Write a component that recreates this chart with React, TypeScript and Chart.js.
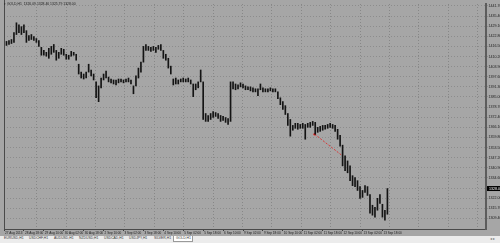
import React, { useEffect, useRef } from "react";
import { Chart, registerables } from "chart.js";
Chart.register(...registerables);

const symbol = "GOLD,H1";
const headerValues = ["1326.09", "1328.46", "1325.79", "1328.00"];

// each slot = 2 hourly bars
const highs = [
  1420.2, 1419.6, 1420.2, 1420.8, 1425.1, 1431.2, 1430.0, 1428.8, 1430.0, 1426.3,
  1423.3, 1423.9, 1422.6, 1421.4, 1420.2, 1415.9, 1414.0, 1412.8, 1415.3, 1416.5,
  1417.7, 1414.0, 1412.8, 1415.3, 1414.7, 1411.6, 1411.0, 1413.4, 1412.8, 1411.6,
  1405.4, 1400.5, 1399.3, 1400.5, 1405.4, 1401.8, 1399.3, 1394.4, 1391.9, 1396.8,
  1399.3, 1401.1, 1397.4, 1396.2, 1395.6, 1395.6, 1396.2, 1396.2, 1395.6, 1396.2,
  1396.8, 1395.6, 1391.9, 1398.1, 1403.0, 1406.7, 1416.5, 1417.7, 1416.5, 1415.9,
  1416.5, 1415.9, 1417.1, 1417.7, 1414.0, 1411.6, 1409.1, 1404.2,
  1396.2, 1396.8, 1395.6, 1396.2, 1396.8, 1396.2, 1396.8, 1395.6, 1393.1, 1393.1,
  1394.4, 1401.8, 1394.4, 1374.7, 1373.5, 1374.7, 1375.9, 1375.3, 1374.7, 1373.5,
  1372.9, 1372.2, 1371.6, 1394.4, 1394.4, 1393.1, 1392.5, 1393.8, 1393.1, 1391.9,
  1391.3, 1391.3, 1390.7, 1390.1, 1390.1, 1393.1, 1390.7, 1390.1, 1390.1, 1390.7,
  1390.1, 1390.1, 1388.2, 1384.5, 1382.1, 1379.6, 1374.7, 1371.0, 1367.3, 1368.6,
  1368.6, 1367.9, 1368.6, 1367.9, 1368.6, 1369.2, 1369.8, 1369.2, 1366.1, 1366.7,
  1367.3, 1367.3, 1367.9, 1368.6, 1367.9, 1367.3, 1364.9, 1361.2, 1355.0, 1348.3,
  1345.2, 1342.1, 1336.0, 1334.8, 1332.9, 1329.2, 1326.8, 1329.8, 1329.2, 1324.3,
  1317.6, 1316.3, 1321.9, 1324.3, 1318.2, 1314.5, 1328.0,
];
const lows = [
  1417.7, 1417.1, 1417.7, 1418.3, 1419.0, 1423.9, 1425.1, 1423.9, 1425.1, 1419.0,
  1420.2, 1420.8, 1420.2, 1419.0, 1416.5, 1411.0, 1411.0, 1410.4, 1409.1, 1411.6,
  1412.8, 1407.9, 1409.1, 1411.6, 1411.0, 1408.5, 1408.5, 1410.4, 1411.0, 1407.9,
  1399.3, 1396.8, 1396.2, 1396.8, 1400.5, 1398.1, 1395.6, 1384.5, 1382.1, 1390.7,
  1395.6, 1396.8, 1394.4, 1393.8, 1393.1, 1392.5, 1393.8, 1394.4, 1393.8, 1394.4,
  1394.4, 1393.1, 1387.0, 1391.9, 1396.8, 1400.5, 1406.7, 1414.0, 1414.0, 1413.4,
  1414.0, 1412.8, 1414.7, 1414.0, 1409.1, 1407.9, 1403.0, 1399.3,
  1392.5, 1393.1, 1393.1, 1394.4, 1394.4, 1394.4, 1394.4, 1393.1, 1385.2, 1389.5,
  1390.7, 1394.4, 1371.0, 1369.8, 1369.8, 1371.0, 1372.2, 1372.9, 1371.6, 1369.8,
  1370.4, 1369.2, 1367.9, 1369.8, 1390.1, 1389.5, 1390.1, 1391.3, 1390.7, 1389.5,
  1389.5, 1388.8, 1388.2, 1388.2, 1385.8, 1389.5, 1388.2, 1388.2, 1388.2, 1388.8,
  1388.2, 1388.2, 1383.9, 1380.2, 1377.2, 1374.1, 1367.3, 1360.6, 1364.3, 1365.5,
  1364.9, 1365.5, 1365.5, 1358.7, 1366.1, 1366.1, 1367.3, 1361.8, 1363.0, 1363.6,
  1364.3, 1364.9, 1365.5, 1366.1, 1365.5, 1363.6, 1358.7, 1354.4, 1342.1, 1339.1,
  1337.8, 1332.9, 1329.8, 1329.2, 1326.8, 1321.9, 1322.5, 1325.5, 1323.7, 1312.6,
  1311.4, 1310.2, 1314.5, 1318.8, 1310.2, 1308.3, 1312.0,
];

const timeLabels = [
  "27 Aug 2013", "28 Aug 18:00", "29 Aug 10:00", "30 Aug 02:00", "30 Aug 18:00",
  "2 Sep 10:00", "3 Sep 02:00", "3 Sep 18:00", "4 Sep 10:00", "5 Sep 02:00",
  "5 Sep 18:00", "6 Sep 10:00", "9 Sep 02:00", "9 Sep 18:00", "10 Sep 10:00",
  "11 Sep 02:00", "11 Sep 18:00", "12 Sep 10:00", "13 Sep 02:00", "13 Sep 18:00",
];
const priceTicks = [
  1441.7, 1435.4, 1429.1, 1422.8, 1416.5, 1410.2, 1403.9, 1397.6, 1391.3, 1385.0, 1378.7,
  1372.4, 1366.1, 1359.8, 1353.5, 1347.2, 1340.9, 1334.6, 1328.3, 1322.0, 1315.7, 1309.4,
];
const currentPrice = 1328.0;
const trendSlots = [124.8, 136];
const trendPrices = [1361.8, 1348.3];
const tabs = ["EURUSD,H1", "USDCHF,H1", "AUDUSD,H1", "NZDUSD,H1", "USDCAD,H1", "USDJPY,H1", "SILVER,H1", "GOLD,H1"];

const X_MAX = 193.6;
const LABEL_STEP = 8;
const GRID_START = 13.2;
const GRID_STEP = 11.8;
const FONT = "'Liberation Sans', Arial, sans-serif";

const chromePlugin = {
  id: "chrome",
  beforeDraw(chart: any) {
    const { ctx, width, height } = chart;
    ctx.save();
    ctx.fillStyle = "#a6a6a6";
    ctx.fillRect(0, 0, width, height);
    ctx.restore();
  },
  afterDraw(chart: any) {
    const { ctx, chartArea } = chart;
    ctx.save();
    ctx.strokeStyle = "#4a4a4a";
    ctx.lineWidth = 1;
    ctx.beginPath();
    ctx.moveTo(chartArea.left + 0.5, 0);
    ctx.lineTo(chartArea.left + 0.5, chartArea.bottom);
    ctx.stroke();
    ctx.font = `3.4px ${FONT}`;
    ctx.fillStyle = "#1e1e1e";
    ctx.textBaseline = "middle";
    ctx.fillText("\u25BE " + symbol + "  " + headerValues.join(" "), 4, 4);
    const y = chart.scales.y.getPixelForValue(currentPrice);
    ctx.fillStyle = "#000";
    ctx.fillRect(chartArea.right + 1, y - 2.5, 14, 5);
    ctx.fillStyle = "#fff";
    ctx.font = `3.6px ${FONT}`;
    ctx.fillText(currentPrice.toFixed(2), chartArea.right + 3, y + 0.2);
    ctx.restore();
  },
};

export default function App() {
  const ref = useRef<HTMLCanvasElement | null>(null);
  useEffect(() => {
    document.body.style.margin = "0";
    const canvas = ref.current!;
    const chart = new Chart(canvas, {
      type: "bar",
      data: {
        datasets: [
          {
            type: "bar",
            data: highs.map((h, k) => ({ x: k, y: [lows[k], h] })) as any,
            backgroundColor: "#141414",
            borderWidth: 0,
            barThickness: 1,
            xAxisID: "x",
            yAxisID: "y",
          },
          {
            type: "line",
            data: trendSlots.map((s, i) => ({ x: s, y: trendPrices[i] })) as any,
            borderColor: "#d63a3a",
            borderWidth: 1,
            borderDash: [2, 1.5],
            pointRadius: [1.3, 0],
            pointBackgroundColor: "#e02020",
            pointBorderWidth: 0,
            xAxisID: "x",
            yAxisID: "y",
          } as any,
        ],
      },
      plugins: [chromePlugin],
      options: {
        animation: false,
        responsive: false,
        devicePixelRatio: 1,
        events: [],
        layout: { padding: { left: 2, top: 1, right: 0, bottom: 0 } },
        plugins: { legend: { display: false }, tooltip: { enabled: false }, title: { display: false } },
        scales: {
          x: {
            type: "linear",
            min: 0,
            max: X_MAX,
            offset: false,
            afterBuildTicks: (a: any) => {
              a.ticks = timeLabels.map((_, i) => ({ value: i * LABEL_STEP }));
            },
            afterFit: (a: any) => {
              a.height = 7;
            },
            ticks: {
              autoSkip: false,
              maxRotation: 0,
              minRotation: 0,
              align: "start",
              padding: 0,
              labelOffset: 1,
              font: { size: 3.1, family: FONT },
              color: "#1a1a1a",
              callback: (_v: any, i: number) => timeLabels[i],
            },
            grid: { drawOnChartArea: false, drawTicks: true, tickLength: 2, color: "#3a3a3a", offset: false },
            border: { display: true, color: "#4a4a4a", width: 1 },
          },
          xg: {
            type: "linear",
            position: "top",
            min: 0,
            max: X_MAX,
            offset: false,
            afterBuildTicks: (a: any) => {
              const t: any[] = [];
              for (let s = GRID_START; s <= X_MAX; s += GRID_STEP) t.push({ value: s });
              a.ticks = t;
            },
            afterFit: (a: any) => {
              a.height = 0;
            },
            ticks: { display: false },
            grid: { color: "#878787", drawTicks: false, lineWidth: 1, offset: false },
            border: { display: false, dash: [1, 2] },
          },
          y: {
            position: "right",
            min: 1302.8,
            max: 1442.9,
            afterBuildTicks: (a: any) => {
              a.ticks = priceTicks.map((v) => ({ value: v }));
            },
            afterFit: (a: any) => {
              a.width = 14;
            },
            ticks: {
              autoSkip: false,
              padding: 0.5,
              font: { size: 3.6, family: FONT },
              color: "#1a1a1a",
              callback: (v: any) => Number(v).toFixed(2),
            },
            grid: { color: "#8c8c8c", lineWidth: 1, drawTicks: true, tickLength: 2 },
            border: { display: true, color: "#5c5c5c", width: 2, dash: [1, 2] },
          },
        },
      } as any,
    });
    return () => chart.destroy();
  }, []);

  const tabWidths = [25, 25, 25, 25, 25, 25, 21, 21];
  return (
    <div style={{ position: "fixed", left: 0, top: 0, width: 500, height: 243, background: "#ececec", overflow: "hidden" }}>
      <canvas ref={ref} width={500} height={236} style={{ display: "block", width: 500, height: 236 }} />
      <div style={{ position: "absolute", left: 0, top: 236, width: 500, height: 7, background: "#ececec", fontFamily: FONT, fontSize: 3.4, color: "#333" }}>
        {tabs.map((t, i) => {
          const left = 2 + tabWidths.slice(0, i).reduce((a, b) => a + b, 0);
          const active = i === tabs.length - 1;
          return (
            <div
              key={t}
              style={{
                position: "absolute",
                left,
                top: 0,
                width: tabWidths[i] - 1,
                height: active ? 6 : 5,
                background: active ? "#ffffff" : "#ececec",
                borderRight: "1px solid #b8b8b8",
                border: active ? "1px solid #9a9a9a" : undefined,
                borderTop: active ? "none" : undefined,
                boxSizing: "border-box",
                lineHeight: "5px",
                paddingLeft: 2,
                whiteSpace: "nowrap",
              }}
            >
              {t}
            </div>
          );
        })}
        <div style={{ position: "absolute", left: 490, top: 0, lineHeight: "6px", fontSize: 4, color: "#777" }}>{"\u25C2 \u25B8"}</div>
      </div>
    </div>
  );
}
